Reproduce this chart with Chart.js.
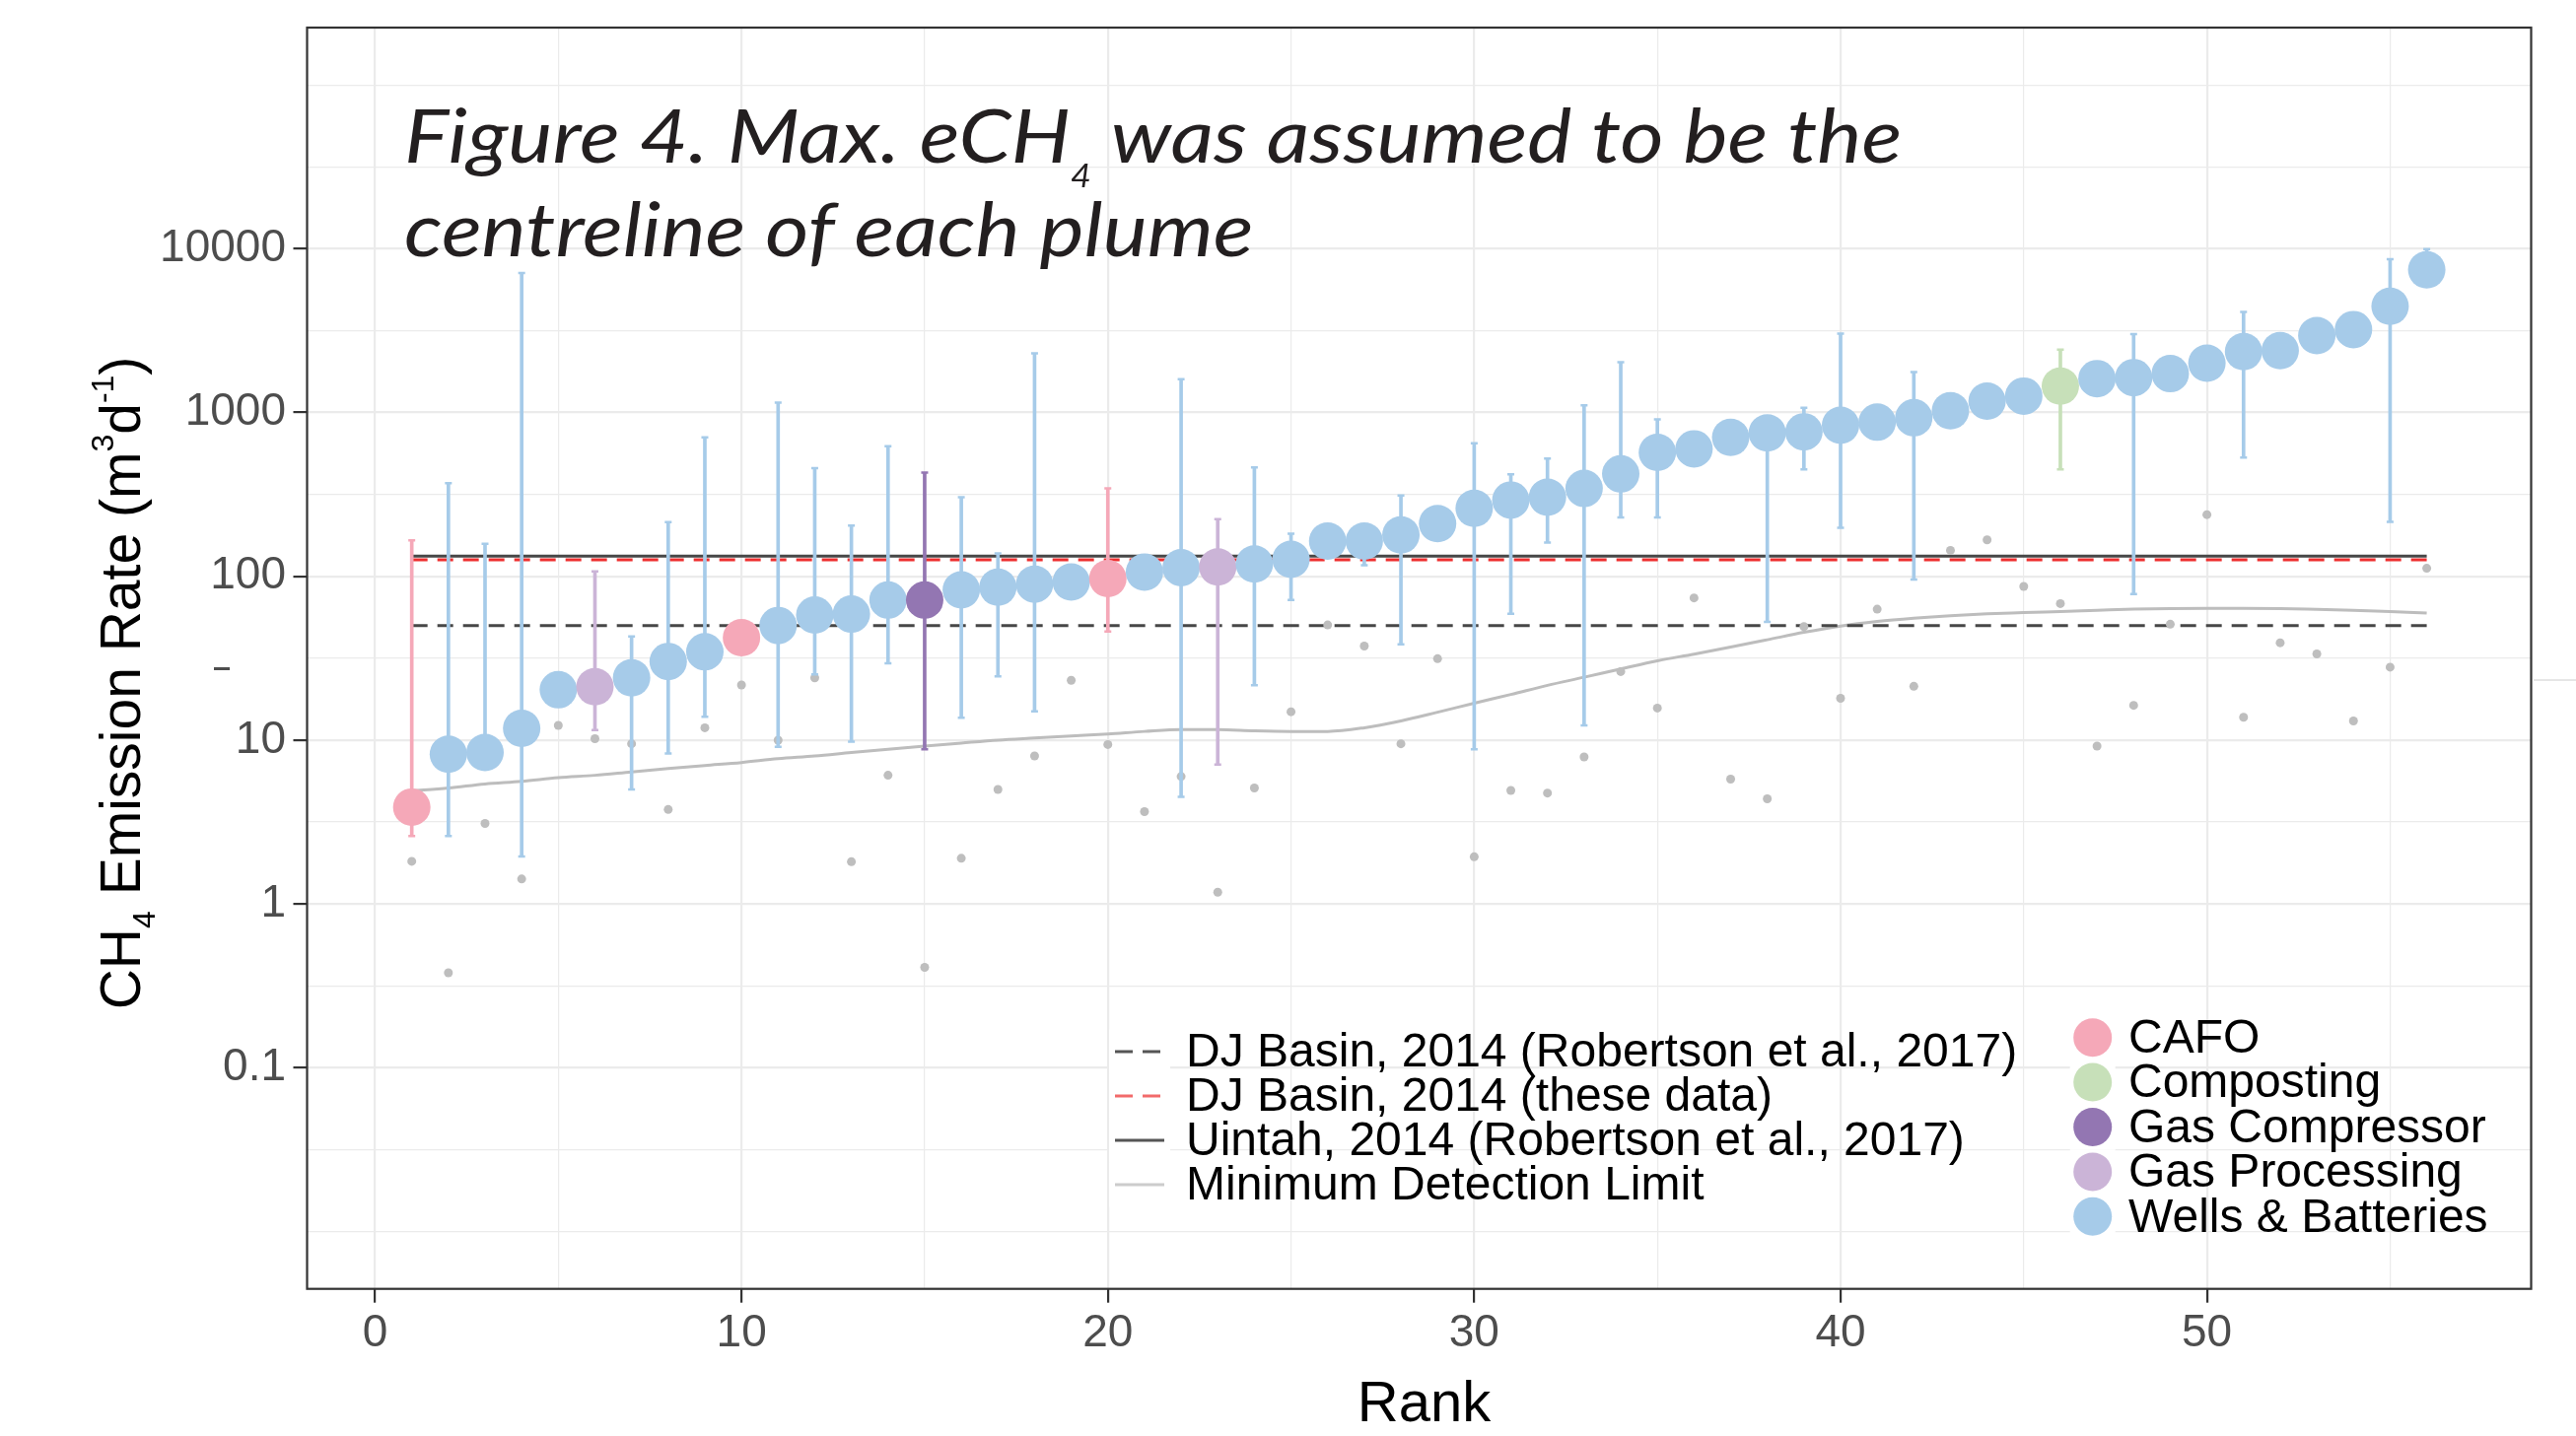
<!DOCTYPE html>
<html>
<head>
<meta charset="utf-8">
<script src="https://cdn.jsdelivr.net/npm/chart.js@4.4.1/dist/chart.umd.min.js"></script>
<style>
  html, body { margin: 0; padding: 0; background: #ffffff; }
  #wrap { width: 2613px; height: 1457px; position: relative; }
</style>
</head>
<body>
<div id="wrap"><canvas id="chart"></canvas></div>
<script>
// ---- data ----
const ranks = [1, 2, 3, 4, 5, 6, 7, 8, 9, 10, 11, 12, 13, 14, 15, 16, 17, 18, 19, 20,
  21, 22, 23, 24, 25, 26, 27, 28, 29, 30, 31, 32, 33, 34, 35, 36, 37, 38, 39, 40,
  41, 42, 43, 44, 45, 46, 47, 48, 49, 50, 51, 52, 53, 54, 55, 56];

const W = 'Wells & Batteries';
const sources = ['CAFO', W, W, W, W, 'Gas Processing', W, W, W, 'CAFO',
  W, W, W, W, 'Gas Compressor', W, W, W, W, 'CAFO',
  W, W, 'Gas Processing', W, W, W, W, W, W, W,
  W, W, W, W, W, W, W, W, W, W,
  W, W, W, W, W, 'Composting', W, W, W, W,
  W, W, W, W, W, W];

// max eCH4 (big dots)
const maxECH4 = [3.9, 8.2, 8.4, 11.8, 20.3, 21.2, 24, 30.2, 34.6, 42.2,
  50.1, 58, 58.8, 71.6, 71.6, 82.6, 85.8, 89.6, 92.3, 97,
  106, 113, 114, 119, 127, 164, 164, 179, 210, 260,
  292, 304, 344, 422, 571, 600, 705, 751, 762, 836,
  873, 929, 1026, 1173, 1260, 1449, 1611, 1633, 1727, 2000,
  2355, 2388, 2950, 3210, 4450, 7430];

// error bar ends (null = no bar)
const errLow = [2.6, 2.6, 7.5, 1.95, null, 11.5, 5.0, 8.3, 13.9, null,
  9.1, 25.2, 9.8, 29.4, 8.8, 13.7, 24.5, 15, null, 46,
  null, 4.5, 7.1, 21.6, 71.6, null, 117, 38.4, null, 8.8,
  59, 161, 12.3, 229, 229, null, null, 52.6, 449, 198,
  null, 95.5, null, null, null, 449, null, 78, null, null,
  531, null, null, null, 215, 6800];
const errHigh = [166, 371, 158, 7100, null, 107, 43, 214, 706, null,
  1150, 457, 204, 622, 430, 304, 138, 2300, null, 344,
  null, 1600, 223, 462, 182, null, 185, 312, null, 650,
  420, 524, 1107, 2030, 908, null, null, 820, 1070, 3030,
  null, 1766, null, null, null, 2420, null, 3010, null, null,
  4110, null, null, null, 8630, 9950];

// small grey points
const altECH4 = [1.82, 0.38, 3.1, 1.42, 12.3, 10.2, 9.5, 3.77, 11.9, 21.7,
  10.0, 24, 1.81, 6.1, 0.41, 1.9, 5.0, 8.0, 23.2, 9.4,
  3.66, 6.0, 1.18, 5.1, 14.9, 50.5, 37.5, 9.5, 31.4, 1.94,
  4.93, 4.75, 7.9, 26.2, 15.7, 73.8, 5.78, 4.38, 49.3, 18,
  63, 21.3, 144, 167, 86.7, 68.2, 9.2, 16.3, 51, 238,
  13.8, 39.3, 33.6, 13.1, 27.9, 112];

// minimum detection limit (smooth curve)
const mdl = [4.9, 5.1, 5.4, 5.6, 5.9, 6.1, 6.4, 6.7, 7.0, 7.3,
  7.7, 8.0, 8.4, 8.8, 9.2, 9.6, 10.0, 10.3, 10.6, 10.9,
  11.3, 11.6, 11.6, 11.4, 11.3, 11.3, 11.9, 13.1, 14.8, 16.8,
  19.0, 21.6, 24.2, 27.2, 30.5, 33.5, 37, 41, 45.5, 49.7,
  53, 55.5, 57.5, 59, 60, 61, 62, 63, 63.5, 63.7,
  63.7, 63.5, 62.8, 62, 61, 59.7];

const refLabels = ['DJ Basin, 2014 (Robertson et al., 2017)', 'DJ Basin, 2014 (these data)',
  'Uintah, 2014 (Robertson et al., 2017)'];
const refValues = [50, 126, 133];
const mdlLabel = 'Minimum Detection Limit';

const categories = ['CAFO', 'Composting', 'Gas Compressor', 'Gas Processing', 'Wells & Batteries'];
const categoryColors = ['#F5A8B8', '#C7E0B9', '#9376B2', '#CBB4D7', '#A6CBE9'];

const xTickLabels = [0, 10, 20, 30, 40, 50];
const xGridValues = [0, 5, 10, 15, 20, 25, 30, 35, 40, 45, 50, 55];
const yTickLabels = [0.1, 1, 10, 100, 1000, 10000];

// ---- helpers ----
const colorOf = s => categoryColors[categories.indexOf(s)];
const isYMajor = v => yTickLabels.some(t => Math.abs(t - v) / t < 1e-9);

// half-decade grid for the log axis, 0.01 .. 1e5
const yGridValues = [];
for (let k = -4; k <= 10; k++) yGridValues.push(Math.pow(10, k / 2));

const dotData = ranks.map((r, i) => ({x: r, y: maxECH4[i]}));
const dotColors = sources.map(colorOf);

const barData = [], barColors = [], capData = [], capColors = [];
ranks.forEach((r, i) => {
  if (errLow[i] == null) return;
  const c = colorOf(sources[i]);
  barData.push({x: r, y: [errLow[i], errHigh[i]]});
  barColors.push(c);
  capData.push({x: r, y: errLow[i]}, {x: r, y: errHigh[i]});
  capColors.push(c, c);
});

const refStyles = [
  {color: '#474747', dash: [16, 10]},
  {color: '#EE2F2F', dash: [16, 10]},
  {color: '#474747', dash: []}
];

const refDatasets = refValues.map((v, i) => ({
  type: 'line',
  label: refLabels[i],
  data: [{x: ranks[0], y: v}, {x: ranks[ranks.length - 1], y: v}],
  borderColor: refStyles[i].color,
  borderDash: refStyles[i].dash,
  borderWidth: 3,
  pointRadius: 0,
  order: 5
}));

// ---- text, border, legends ----
const FONT = '"Liberation Sans", Arial, sans-serif';

function drawParts(ctx, parts, x, y) {
  parts.forEach(p => {
    ctx.font = p.font;
    ctx.fillText(p.t, x, y + (p.dy || 0));
    x += ctx.measureText(p.t).width;
  });
  return x;
}
function partsWidth(ctx, parts) {
  let w = 0;
  parts.forEach(p => { ctx.font = p.font; w += ctx.measureText(p.t).width; });
  return w;
}

const decor = {
  id: 'decor',
  afterDraw(chart) {
    const {ctx, chartArea: a} = chart;
    ctx.save();

    // panel border
    ctx.strokeStyle = '#333333';
    ctx.lineWidth = 2.2;
    ctx.strokeRect(a.left, a.top, a.right - a.left, a.bottom - a.top);

    // title inside the panel (stretched a little to match the wider original face)
    ctx.fillStyle = '#231F20';
    ctx.textAlign = 'left';
    ctx.textBaseline = 'alphabetic';
    const tf = 'italic 76px Lato, "Open Sans", sans-serif';
    ctx.save();
    ctx.translate(410, 0);
    ctx.scale(1.12, 1);
    drawParts(ctx, [
      {t: 'Figure 4. Max. eCH', font: tf},
      {t: '4', font: 'italic 32px Lato, "Open Sans", sans-serif', dy: 25},
      {t: ' was assumed to be the', font: tf}
    ], 0, 165);
    drawParts(ctx, [{t: 'centreline of each plume', font: tf}], 0, 260);
    ctx.restore();

    // axis titles
    ctx.fillStyle = '#000000';
    ctx.font = '58px ' + FONT;
    ctx.textAlign = 'center';
    ctx.fillText('Rank', (a.left + a.right) / 2 + 5, 1442);

    const mf = '57px ' + FONT, sf = '32px ' + FONT;
    const yParts = [
      {t: 'CH', font: mf}, {t: '4', font: sf, dy: 15},
      {t: ' Emission Rate (m', font: mf}, {t: '3', font: sf, dy: -27},
      {t: 'd', font: mf}, {t: '-1', font: sf, dy: -27}, {t: ')', font: mf}
    ];
    ctx.textAlign = 'left';
    const yw = partsWidth(ctx, yParts);
    ctx.save();
    ctx.translate(142, 693);
    ctx.rotate(-Math.PI / 2);
    drawParts(ctx, yParts, -yw / 2, 0);
    ctx.restore();

    // stray marks seen in the figure
    ctx.fillStyle = '#4D4D4D';
    ctx.fillRect(217, 677, 16, 3);
    ctx.fillStyle = '#E6E6E6';
    ctx.fillRect(2570, 689, 43, 2);

    // line legend
    const lx = 1131, lrow0 = 1067, lstep = 45;
    const lineKeys = [
      {color: '#555555', dash: [18, 10], w: 3},
      {color: '#F26B6B', dash: [18, 10], w: 3},
      {color: '#555555', dash: [], w: 3},
      {color: '#CCCCCC', dash: [], w: 3}
    ];
    const lineLabels = refLabels.concat([mdlLabel]);
    ctx.font = '48px ' + FONT;
    ctx.textBaseline = 'middle';
    lineLabels.forEach((lab, i) => {
      const y = lrow0 + i * lstep;
      ctx.fillStyle = '#FFFFFF';
      ctx.fillRect(lx - 6, y - lstep / 2, 62, lstep);
      ctx.strokeStyle = lineKeys[i].color;
      ctx.lineWidth = lineKeys[i].w;
      ctx.setLineDash(lineKeys[i].dash);
      ctx.beginPath();
      ctx.moveTo(lx, y);
      ctx.lineTo(lx + 50, y);
      ctx.stroke();
      ctx.setLineDash([]);
      ctx.fillStyle = '#000000';
      ctx.fillText(lab, 1203, y + 2);
    });

    // point legend
    const px = 2122.7, prow0 = 1052.7, pstep = 45.4;
    categories.forEach((lab, i) => {
      const y = prow0 + i * pstep;
      ctx.fillStyle = '#FFFFFF';
      ctx.fillRect(px - 23, y - pstep / 2, 46, pstep);
      ctx.fillStyle = categoryColors[i];
      ctx.beginPath();
      ctx.arc(px, y, 19.5, 0, Math.PI * 2);
      ctx.fill();
      ctx.fillStyle = '#000000';
      ctx.fillText(lab, 2159, y + 2);
    });

    ctx.restore();
  }
};

new Chart(document.getElementById('chart'), {
  type: 'scatter',
  data: {
    datasets: [
      {
        type: 'line',
        label: mdlLabel,
        data: ranks.map((r, i) => ({x: r, y: mdl[i]})),
        borderColor: '#BDBDBD',
        borderWidth: 3,
        pointRadius: 0,
        tension: 0.4,
        cubicInterpolationMode: 'monotone',
        order: 6
      },
      ...refDatasets,
      {
        label: 'other estimate',
        data: ranks.map((r, i) => ({x: r, y: altECH4[i]})),
        backgroundColor: '#BEBEBE',
        borderWidth: 0,
        pointRadius: 4.5,
        order: 4
      },
      {
        type: 'bar',
        label: 'range',
        data: barData,
        backgroundColor: barColors,
        barThickness: 3,
        order: 3
      },
      {
        label: 'caps',
        data: capData,
        pointStyle: 'line',
        pointRadius: 3.5,
        borderColor: capColors,
        borderWidth: 2.5,
        order: 2
      },
      {
        label: 'max eCH4',
        data: dotData,
        backgroundColor: dotColors,
        borderWidth: 0,
        pointRadius: 19,
        order: 1
      }
    ]
  },
  options: {
    responsive: true,
    maintainAspectRatio: false,
    devicePixelRatio: 1,
    animation: false,
    events: [],
    layout: {padding: {top: 28, right: 45.5, left: 0, bottom: 0}},
    plugins: {legend: {display: false}, tooltip: {enabled: false}},
    scales: {
      x: {
        type: 'linear',
        min: -1.857,
        max: 58.85,
        offset: false,
        afterBuildTicks: s => { s.ticks = xGridValues.map(v => ({value: v})); },
        afterFit: s => { s.height = 149.3; s.paddingLeft = 0; s.paddingRight = 0; },
        ticks: {
          autoSkip: false,
          maxRotation: 0,
          padding: 4,
          color: '#4D4D4D',
          font: {family: FONT, size: 46},
          callback: v => xTickLabels.includes(v) ? String(v) : ''
        },
        grid: {
          offset: false,
          color: '#EBEBEB',
          lineWidth: c => (c.tick && xTickLabels.includes(c.tick.value)) ? 2.2 : 1.2,
          tickLength: 14,
          tickWidth: 2.2,
          tickColor: c => (c.tick && xTickLabels.includes(c.tick.value)) ? '#333333' : 'rgba(0,0,0,0)'
        },
        border: {display: false}
      },
      y: {
        type: 'logarithmic',
        min: Math.pow(10, -2.35),
        max: Math.pow(10, 5.35),
        afterBuildTicks: s => { s.ticks = yGridValues.map(v => ({value: v})); },
        afterFit: s => { s.width = 311.5; s.paddingTop = 0; s.paddingBottom = 0; },
        ticks: {
          autoSkip: false,
          padding: 7.5,
          color: '#4D4D4D',
          font: {family: FONT, size: 46},
          callback: v => isYMajor(v) ? String(v) : ''
        },
        grid: {
          color: '#EBEBEB',
          lineWidth: c => (c.tick && isYMajor(c.tick.value)) ? 2.2 : 1.2,
          tickLength: 14,
          tickWidth: 2.2,
          tickColor: c => (c.tick && isYMajor(c.tick.value)) ? '#333333' : 'rgba(0,0,0,0)'
        },
        border: {display: false}
      }
    }
  },
  plugins: [decor]
});
</script>
</body>
</html>
